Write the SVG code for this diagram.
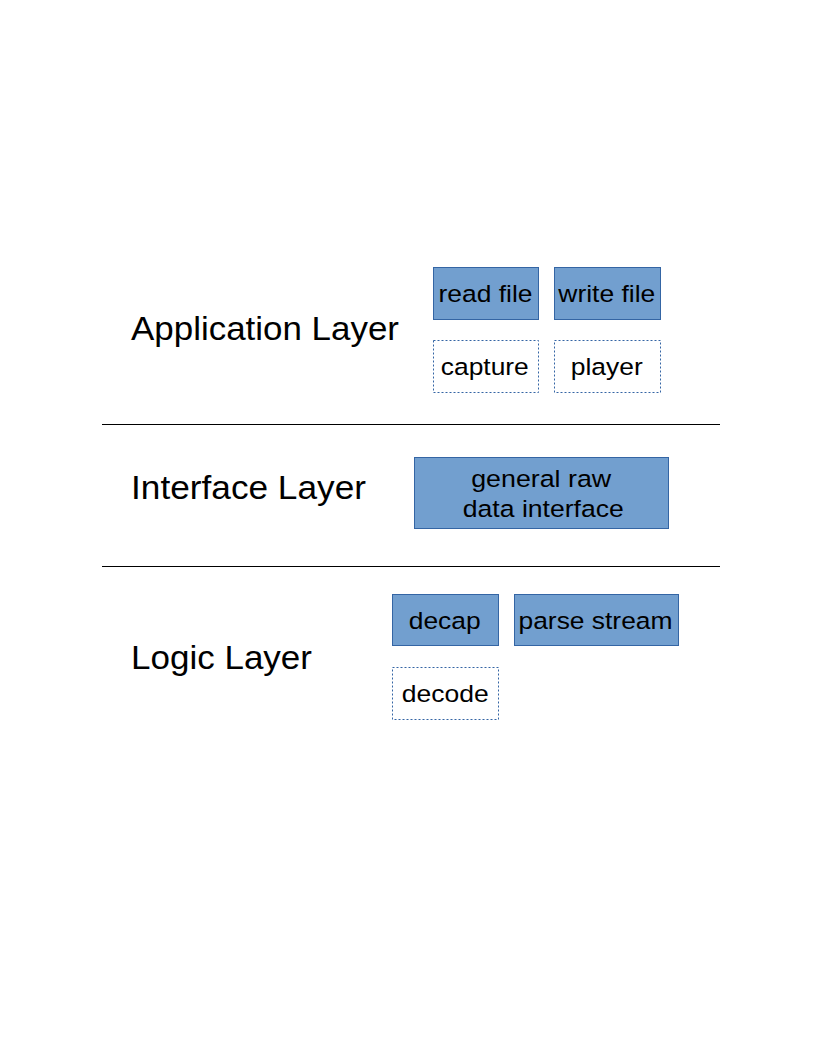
<svg xmlns="http://www.w3.org/2000/svg" width="816" height="1056" viewBox="0 0 816 1056">
<style>
.layer{font-family:"Liberation Sans",Arial,sans-serif;font-size:33px;fill:#000}
.t{font-family:"Liberation Sans",Arial,sans-serif;font-size:24.5px;fill:#000;text-anchor:middle}
.solid{fill:#729fcf;stroke:#3465a4;stroke-width:1}
.dot{fill:#fff;stroke:#3465a4;stroke-width:1;stroke-dasharray:2 2}
.sep{stroke:#000;stroke-width:1}
</style>
<rect width="816" height="1056" fill="#fff"/>
<g id="separators">
<line class="sep" x1="102" y1="424.5" x2="720" y2="424.5"/>
<line class="sep" x1="102" y1="566.5" x2="720" y2="566.5"/>
</g>
<g id="layers">
<text class="layer" x="131" y="340" textLength="268" lengthAdjust="spacingAndGlyphs">Application Layer</text>
<text class="layer" x="131" y="499" textLength="235" lengthAdjust="spacingAndGlyphs">Interface Layer</text>
<text class="layer" x="131" y="669" textLength="181" lengthAdjust="spacingAndGlyphs">Logic Layer</text>
</g>
<g id="read-file"><rect class="solid" x="433.5" y="267.5" width="105" height="52"/><text class="t" x="485.5" y="302" textLength="94" lengthAdjust="spacingAndGlyphs">read file</text></g>
<g id="write-file"><rect class="solid" x="554.5" y="267.5" width="106" height="52"/><text class="t" x="606.8" y="302" textLength="97" lengthAdjust="spacingAndGlyphs">write file</text></g>
<g id="capture"><rect class="dot" x="433.5" y="340.5" width="105" height="52"/><text class="t" x="484.8" y="375" textLength="88" lengthAdjust="spacingAndGlyphs">capture</text></g>
<g id="player"><rect class="dot" x="554.5" y="340.5" width="106" height="52"/><text class="t" x="606.7" y="375" textLength="72" lengthAdjust="spacingAndGlyphs">player</text></g>
<g id="general-raw"><rect class="solid" x="414.5" y="457.5" width="254" height="71"/><text class="t" x="541.2" y="487" textLength="140" lengthAdjust="spacingAndGlyphs">general raw</text><text class="t" x="543.3" y="517" textLength="161" lengthAdjust="spacingAndGlyphs">data interface</text></g>
<g id="decap"><rect class="solid" x="392.5" y="594.5" width="106" height="51"/><text class="t" x="444.7" y="628.5" textLength="72" lengthAdjust="spacingAndGlyphs">decap</text></g>
<g id="parse-stream"><rect class="solid" x="514.5" y="594.5" width="164" height="51"/><text class="t" x="595.5" y="628.5" textLength="154" lengthAdjust="spacingAndGlyphs">parse stream</text></g>
<g id="decode"><rect class="dot" x="392.5" y="667.5" width="106" height="52"/><text class="t" x="445.2" y="702" textLength="87" lengthAdjust="spacingAndGlyphs">decode</text></g>
<g id="connectors"></g>
</svg>
